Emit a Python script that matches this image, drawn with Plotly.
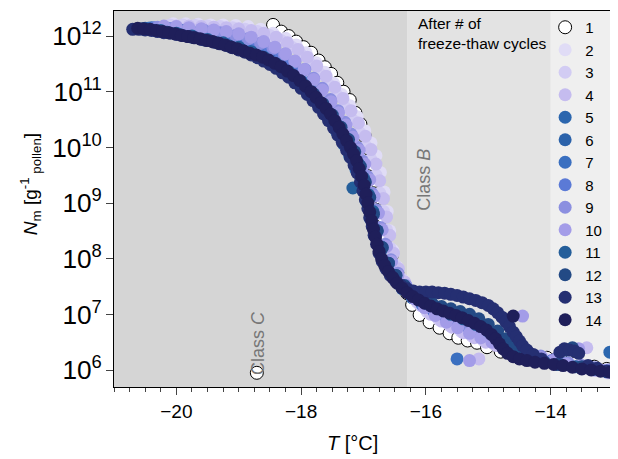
import plotly.graph_objects as go

# ---------------- data (T in °C, log10 of N_m) ----------------
cycles = ["1", "2", "3", "4", "5", "6", "7", "8", "9", "10", "11", "12", "13", "14"]
colors = ["#ffffff", "#e0dcf6", "#d2ccf3", "#c5bcef", "#2b66ae", "#2b62aa", "#3a6fc0",
          "#5b7ad6", "#8b8fe0", "#a39ce8", "#245e9a", "#234a85", "#252f72", "#1f1f5a"]

T1 = [-18.71, -18.45, -18.32, -18.2, -18.08, -17.96, -17.84, -17.72, -17.62, -17.52, -17.42, -17.32, -17.22,
      -17.13, -17.05, -16.98, -16.92, -16.86, -16.8, -16.74, -16.68, -16.62, -16.55, -16.46, -16.37, -16.3,
      -16.22, -16.1, -15.94, -15.78, -15.62, -15.48, -15.33, -15.18, -15.02, -14.8, -14.55, -14.3, -14.06,
      -13.93, -13.85, -13.6, -13.3, -13.1]
L1 = [5.95, 12.2, 12.08, 12.0, 11.9, 11.8, 11.7, 11.56, 11.44, 11.32, 11.16, 11.0, 10.85,
      10.62, 10.42, 10.2, 9.98, 9.7, 9.4, 9.1, 8.75, 8.4, 8.05, 7.75, 7.52, 7.38,
      7.17, 6.99, 6.86, 6.76, 6.66, 6.58, 6.53, 6.49, 6.41, 6.33, 6.27, 6.22, 6.22,
      6.18, 6.26, 6.12, 6.06, 6.02]

T2 = [-20.05, -19.85, -19.65, -19.45, -19.25, -19.05, -18.85, -18.65, -18.45, -18.25, -18.08, -17.92, -17.76,
      -17.62, -17.48, -17.35, -17.22, -17.1, -16.98, -16.88, -16.8, -16.73, -16.67, -16.62, -16.58, -16.53,
      -16.46, -16.36, -16.24, -16.1, -15.94, -15.78, -15.6, -15.42, -15.24, -15.06, -14.88, -14.7, -14.5,
      -14.3, -14.1, -13.9, -13.7, -13.5, -13.3, -13.1]
L2 = [12.22, 12.22, 12.21, 12.2, 12.2, 12.19, 12.17, 12.12, 12.05, 11.96, 11.84, 11.7, 11.52,
      11.35, 11.15, 10.95, 10.75, 10.55, 10.3, 10.08, 9.85, 9.55, 9.2, 8.85, 8.5, 8.15,
      7.85, 7.6, 7.38, 7.18, 7.02, 6.9, 6.8, 6.7, 6.62, 6.55, 6.48, 6.42, 6.35,
      6.28, 6.22, 6.16, 6.12, 6.08, 6.04, 6.0]

T3 = [-20.1, -19.9, -19.7, -19.5, -19.3, -19.1, -18.9, -18.7, -18.5, -18.32, -18.15, -18.0, -17.85,
      -17.7, -17.56, -17.43, -17.3, -17.18, -17.06, -16.96, -16.88, -16.8, -16.74, -16.68, -16.63, -16.58,
      -16.5, -16.4, -16.28, -16.14, -15.98, -15.8, -15.62, -15.44, -15.26, -15.08, -14.9, -14.72, -14.52,
      -14.32, -14.12, -13.92, -13.72, -13.52, -13.32, -13.12]
L3 = [12.2, 12.2, 12.19, 12.18, 12.17, 12.15, 12.12, 12.08, 12.01, 11.92, 11.8, 11.66, 11.5,
      11.32, 11.13, 10.94, 10.72, 10.5, 10.26, 10.02, 9.78, 9.5, 9.18, 8.85, 8.52, 8.2,
      7.9, 7.64, 7.42, 7.22, 7.05, 6.92, 6.8, 6.7, 6.61, 6.53, 6.46, 6.4, 6.33,
      6.26, 6.2, 6.14, 6.1, 6.06, 6.02, 5.98]

T4 = [-20.0, -19.8, -19.6, -19.4, -19.2, -19.0, -18.8, -18.6, -18.4, -18.22, -18.05, -17.9, -17.75,
      -17.6, -17.46, -17.33, -17.2, -17.08, -16.97, -16.88, -16.8, -16.74, -16.68, -16.63, -16.58, -16.52,
      -16.44, -16.34, -16.22, -16.08, -15.92, -15.75, -15.58, -15.4, -15.22, -15.04, -14.86, -14.68, -14.48,
      -14.28, -14.08, -13.88, -13.68, -13.48, -13.28, -13.08, -15.15, -13.42]
L4 = [12.18, 12.18, 12.17, 12.16, 12.15, 12.13, 12.1, 12.05, 11.98, 11.88, 11.76, 11.62, 11.46,
      11.28, 11.08, 10.88, 10.66, 10.44, 10.2, 9.96, 9.7, 9.4, 9.08, 8.75, 8.42, 8.1,
      7.82, 7.58, 7.36, 7.16, 7.0, 6.88, 6.77, 6.67, 6.58, 6.5, 6.44, 6.38, 6.3,
      6.23, 6.17, 6.12, 6.07, 6.03, 5.99, 5.95, 6.2, 6.4]

T5 = [-20.5, -20.25, -20.0, -19.75, -19.5, -19.25, -19.02, -18.82, -18.62, -18.44, -18.26, -18.1, -17.95,
      -17.81, -17.68, -17.55, -17.43, -17.32, -17.22, -17.12, -17.04, -16.96, -16.89, -16.82, -16.74, -16.64,
      -16.52, -16.38, -16.22, -16.05, -15.87, -15.68, -15.49, -15.3, -15.12, -14.94, -14.76, -14.58, -14.38,
      -14.18, -13.96, -13.74, -13.52, -13.3, -13.1, -13.05]
L5 = [12.14, 12.12, 12.09, 12.05, 12.0, 11.94, 11.87, 11.79, 11.69, 11.57, 11.44, 11.28, 11.11,
      10.92, 10.72, 10.5, 10.28, 10.06, 9.84, 9.6, 9.34, 9.04, 8.72, 8.42, 8.14, 7.88,
      7.66, 7.46, 7.3, 7.18, 7.08, 7.0, 6.92, 6.83, 6.73, 6.61, 6.48, 6.37, 6.27,
      6.2, 6.14, 6.1, 6.06, 6.02, 5.98, 6.32]

T6 = [-20.45, -20.2, -19.95, -19.7, -19.45, -19.2, -18.98, -18.78, -18.58, -18.4, -18.22, -18.06, -17.91,
      -17.77, -17.64, -17.51, -17.39, -17.28, -17.18, -17.09, -17.01, -16.94, -16.87, -16.8, -16.72, -16.62,
      -16.5, -16.36, -16.2, -16.03, -15.85, -15.66, -15.47, -15.28, -15.1, -14.92, -14.74, -14.56, -14.36,
      -14.16, -13.94, -13.72, -13.5, -13.28, -13.08]
L6 = [12.14, 12.12, 12.09, 12.05, 12.0, 11.94, 11.88, 11.8, 11.7, 11.58, 11.45, 11.3, 11.13,
      10.94, 10.74, 10.53, 10.32, 10.1, 9.88, 9.63, 9.36, 9.06, 8.74, 8.44, 8.15, 7.9,
      7.68, 7.48, 7.32, 7.2, 7.1, 7.02, 6.94, 6.85, 6.75, 6.63, 6.5, 6.38, 6.28,
      6.2, 6.14, 6.1, 6.06, 6.02, 5.98]

T7 = [-20.4, -20.15, -19.9, -19.65, -19.4, -19.15, -18.95, -18.75, -18.55, -18.37, -18.2, -18.05, -17.9,
      -17.76, -17.63, -17.5, -17.38, -17.27, -17.17, -17.08, -17.0, -16.93, -16.86, -16.79, -16.71, -16.61,
      -16.5, -16.37, -16.22, -16.06, -15.88, -15.7, -15.49, -15.32, -15.14, -14.96, -14.78, -14.6, -14.4,
      -14.2, -13.98, -13.76, -13.54, -13.32, -13.1, -15.5]
L7 = [12.15, 12.13, 12.1, 12.06, 12.02, 11.96, 11.9, 11.82, 11.72, 11.6, 11.47, 11.32, 11.15,
      10.96, 10.76, 10.55, 10.34, 10.12, 9.9, 9.65, 9.38, 9.08, 8.76, 8.46, 8.18, 7.92,
      7.7, 7.5, 7.32, 7.18, 7.07, 6.98, 6.9, 6.82, 6.72, 6.62, 6.5, 6.38, 6.28,
      6.2, 6.15, 6.1, 6.06, 6.02, 5.98, 6.2]

T8 = [-20.35, -20.1, -19.85, -19.6, -19.35, -19.1, -18.9, -18.7, -18.5, -18.32, -18.15, -18.0, -17.85,
      -17.72, -17.59, -17.47, -17.36, -17.26, -17.16, -17.07, -16.99, -16.92, -16.85, -16.78, -16.7, -16.6,
      -16.49, -16.36, -16.2, -16.04, -15.86, -15.68, -15.5, -15.32, -15.14, -14.96, -14.78, -14.6, -14.4,
      -14.2, -13.98, -13.76, -13.54, -13.32, -13.1]
L8 = [12.15, 12.13, 12.1, 12.07, 12.03, 11.98, 11.92, 11.84, 11.74, 11.63, 11.5, 11.35, 11.18,
      11.0, 10.8, 10.6, 10.4, 10.18, 9.95, 9.7, 9.42, 9.12, 8.8, 8.5, 8.2, 7.94,
      7.72, 7.5, 7.3, 7.15, 7.04, 6.95, 6.86, 6.77, 6.68, 6.58, 6.48, 6.39, 6.3,
      6.23, 6.17, 6.12, 6.07, 6.03, 5.99]

T9 = [-20.3, -20.05, -19.8, -19.55, -19.3, -19.05, -18.85, -18.65, -18.45, -18.27, -18.1, -17.94, -17.8,
      -17.66, -17.53, -17.41, -17.3, -17.2, -17.1, -17.02, -16.94, -16.87, -16.8, -16.73, -16.65, -16.56,
      -16.45, -16.32, -16.16, -16.0, -15.82, -15.64, -15.46, -15.28, -15.1, -14.92, -14.74, -14.56, -14.36,
      -14.16, -13.94, -13.72, -13.5, -13.28, -13.08]
L9 = [12.16, 12.14, 12.12, 12.1, 12.06, 12.01, 11.95, 11.87, 11.78, 11.67, 11.54, 11.4, 11.24,
      11.06, 10.86, 10.66, 10.45, 10.24, 10.0, 9.76, 9.48, 9.18, 8.88, 8.56, 8.26, 7.98,
      7.74, 7.52, 7.32, 7.16, 7.04, 6.94, 6.84, 6.75, 6.66, 6.57, 6.48, 6.4, 6.32,
      6.25, 6.19, 6.13, 6.08, 6.04, 6.0]

T10 = [-20.2, -20.0, -19.8, -19.6, -19.4, -19.2, -19.0, -18.8, -18.6, -18.42, -18.25, -18.1, -17.95,
       -17.8, -17.66, -17.52, -17.4, -17.28, -17.17, -17.07, -16.98, -16.9, -16.83, -16.76, -16.7, -16.63,
       -16.55, -16.45, -16.33, -16.18, -16.02, -15.85, -15.67, -15.49, -15.3, -15.12, -14.94, -14.76, -14.56,
       -14.36, -14.16, -13.96, -13.76, -13.56, -13.36, -13.16, -14.45, -15.3, -13.55]
L10 = [12.18, 12.17, 12.15, 12.13, 12.11, 12.08, 12.04, 11.98, 11.9, 11.8, 11.68, 11.55, 11.4,
       11.22, 11.03, 10.82, 10.62, 10.4, 10.18, 9.95, 9.7, 9.42, 9.12, 8.82, 8.52, 8.22,
       7.95, 7.7, 7.48, 7.28, 7.12, 6.98, 6.86, 6.76, 6.66, 6.58, 6.5, 6.43, 6.36,
       6.28, 6.22, 6.16, 6.11, 6.07, 6.03, 5.99, 6.97, 6.17, 6.38]

T11 = [-20.5, -20.25, -20.0, -19.75, -19.5, -19.25, -19.0, -18.8, -18.6, -18.4, -18.2, -18.0, -17.85,
       -17.7, -17.55, -17.4, -17.28, -17.17, -17.08, -17.0, -16.92, -16.85, -16.78, -16.7, -16.6, -16.48,
       -16.34, -16.18, -16.0, -15.8, -15.6, -15.4, -15.2, -15.0, -14.82, -14.65, -14.48, -14.3, -14.1,
       -13.85, -13.6, -13.35, -13.1, -17.17]
L11 = [12.12, 12.1, 12.05, 12.0, 11.94, 11.88, 11.8, 11.72, 11.62, 11.5, 11.36, 11.18, 11.0,
       10.8, 10.6, 10.38, 10.16, 9.94, 9.7, 9.45, 9.15, 8.85, 8.5, 8.2, 7.92, 7.7,
       7.5, 7.34, 7.2, 7.1, 7.0, 6.92, 6.82, 6.7, 6.55, 6.4, 6.28, 6.2, 6.14,
       6.1, 6.06, 6.02, 5.98, 9.27]

T12 = [-20.55, -20.35, -20.15, -19.95, -19.75, -19.55, -19.35, -19.15, -18.95, -18.75, -18.55, -18.35, -18.15,
       -17.95, -17.8, -17.65, -17.5, -17.36, -17.24, -17.14, -17.05, -16.97, -16.9, -16.84, -16.78, -16.7,
       -16.6, -16.48, -16.35, -16.2, -16.05, -15.9, -15.75, -15.6, -15.45, -15.3, -15.15, -15.0, -14.85,
       -14.72, -14.6, -14.45, -14.3, -14.1, -13.9, -13.75, -13.65, -13.5, -13.3, -13.1]
L12 = [12.13, 12.1, 12.07, 12.03, 11.98, 11.93, 11.88, 11.82, 11.75, 11.66, 11.56, 11.45, 11.3,
       11.12, 10.96, 10.78, 10.58, 10.36, 10.14, 9.92, 9.66, 9.38, 9.1, 8.8, 8.5, 8.2,
       7.92, 7.7, 7.52, 7.38, 7.28, 7.2, 7.14, 7.1, 7.05, 7.0, 6.92, 6.82, 6.7,
       6.56, 6.42, 6.3, 6.2, 6.14, 6.1, 6.36, 6.4, 6.06, 6.02, 5.97]

T13 = [-20.7, -20.6, -20.5, -20.4, -20.3, -20.2, -20.1, -20.0, -19.9, -19.8,
       -19.7, -19.6, -19.5, -19.4, -19.3, -19.2, -19.1, -19.0, -18.9, -18.8,
       -18.7, -18.6, -18.5, -18.4, -18.3, -18.2, -18.1, -18.0, -17.9, -17.81,
       -17.72, -17.64, -17.56, -17.48, -17.41, -17.34, -17.27, -17.21, -17.15, -17.1,
       -17.05, -17.01, -16.97, -16.93, -16.9, -16.86, -16.83, -16.79, -16.75, -16.7,
       -16.64, -16.57, -16.49, -16.4, -16.3, -16.2, -16.1, -16.0, -15.9, -15.8,
       -15.7, -15.6, -15.5, -15.4, -15.3, -15.2, -15.1, -15.0, -14.92, -14.85,
       -14.78, -14.72, -14.66, -14.6, -14.55, -14.5, -14.45, -14.38, -14.28, -14.15,
       -13.85, -13.78, -13.7, -13.62, -13.55, -13.4, -13.25, -13.1]
L13 = [12.12, 12.12, 12.11, 12.1, 12.08, 12.06, 12.05, 12.03, 12.01, 11.99,
       11.97, 11.94, 11.92, 11.89, 11.86, 11.83, 11.79, 11.75, 11.71, 11.66,
       11.61, 11.55, 11.49, 11.42, 11.34, 11.26, 11.16, 11.06, 10.95, 10.84,
       10.72, 10.6, 10.48, 10.35, 10.22, 10.09, 9.95, 9.82, 9.68, 9.54,
       9.38, 9.22, 9.06, 8.9, 8.74, 8.58, 8.42, 8.26, 8.1, 7.95,
       7.82, 7.7, 7.6, 7.52, 7.46, 7.42, 7.4, 7.4, 7.4, 7.39,
       7.38, 7.36, 7.34, 7.31, 7.28, 7.25, 7.21, 7.16, 7.1, 7.03,
       6.95, 6.87, 6.78, 6.68, 6.6, 6.52, 6.44, 6.36, 6.28, 6.2,
       6.32, 6.38, 6.36, 6.34, 6.3, 6.08, 6.03, 5.98]

T14 = [-20.62, -20.52, -20.42, -20.32, -20.22, -20.12, -20.02, -19.92, -19.82, -19.72,
       -19.62, -19.52, -19.42, -19.32, -19.22, -19.12, -19.02, -18.92, -18.82, -18.72,
       -18.62, -18.52, -18.42, -18.32, -18.22, -18.12, -18.02, -17.93, -17.84, -17.76,
       -17.68, -17.6, -17.53, -17.46, -17.39, -17.33, -17.27, -17.21, -17.16, -17.11,
       -17.07, -17.03, -16.99, -16.96, -16.93, -16.9, -16.87, -16.84, -16.81, -16.78,
       -16.75, -16.71, -16.66, -16.6, -16.53, -16.46, -16.38, -16.3, -16.21, -16.12,
       -16.02, -15.92, -15.82, -15.72, -15.62, -15.52, -15.42, -15.32, -15.22, -15.12,
       -15.03, -14.95, -14.88, -14.82, -14.76, -14.69, -14.6, -14.5, -14.38, -14.25,
       -14.1, -13.95, -13.8, -13.65, -13.5, -13.35, -13.2, -13.05, -14.6]
L14 = [12.14, 12.13, 12.12, 12.1, 12.08, 12.06, 12.04, 12.01, 11.99, 11.97,
       11.95, 11.92, 11.9, 11.87, 11.84, 11.8, 11.77, 11.73, 11.69, 11.66,
       11.62, 11.57, 11.51, 11.45, 11.37, 11.29, 11.2, 11.1, 11.0, 10.9,
       10.8, 10.7, 10.6, 10.48, 10.36, 10.24, 10.12, 10.0, 9.88, 9.76,
       9.62, 9.48, 9.32, 9.16, 9.0, 8.84, 8.68, 8.53, 8.39, 8.26,
       8.13, 8.0, 7.88, 7.77, 7.66, 7.56, 7.47, 7.39, 7.32, 7.26,
       7.2, 7.15, 7.1, 7.06, 7.02, 6.98, 6.94, 6.89, 6.84, 6.78,
       6.72, 6.64, 6.56, 6.47, 6.38, 6.3, 6.24, 6.2, 6.17, 6.14,
       6.12, 6.1, 6.08, 6.05, 6.02, 6.0, 5.98, 5.96, 6.97]

T_series = [T1, T2, T3, T4, T5, T6, T7, T8, T9, T10, T11, T12, T13, T14]
L_series = [L1, L2, L3, L4, L5, L6, L7, L8, L9, L10, L11, L12, L13, L14]

x_range = [-21.0, -13.0]
y_range_log = [5.695, 12.45]
class_b_start = -16.3
class_a_start = -14.0

# ---------------- figure ----------------
FONT = "Liberation Sans, Arial, sans-serif"
fig = go.Figure()

for name, col, T, L in zip(cycles, colors, T_series, L_series):
    if name == "1":
        marker = dict(size=13, color=col, line=dict(color="#000000", width=1))
    else:
        marker = dict(size=13, color=col, line=dict(width=0))
    fig.add_trace(go.Scatter(x=T, y=[10 ** v for v in L], mode="markers", name=name,
                             marker=marker))

shapes = [
    dict(type="rect", xref="x", yref="paper", x0=x_range[0], x1=class_b_start, y0=0, y1=1,
         fillcolor="#d5d5d5", line=dict(width=0), layer="below"),
    dict(type="rect", xref="x", yref="paper", x0=class_b_start, x1=class_a_start, y0=0, y1=1,
         fillcolor="#e3e3e3", line=dict(width=0), layer="below"),
    dict(type="rect", xref="x", yref="paper", x0=class_a_start, x1=x_range[1], y0=0, y1=1,
         fillcolor="#efefef", line=dict(width=0), layer="below"),
]

annotations = [
    dict(text="Class <i>C</i>", x=-18.68, y=6.48, xref="x", yref="y", textangle=-90,
         showarrow=False, font=dict(family=FONT, size=18, color="#777777")),
    dict(text="Class <i>B</i>", x=-16.02, y=9.41, xref="x", yref="y", textangle=-90,
         showarrow=False, font=dict(family=FONT, size=18, color="#777777")),
    dict(text="After # of<br>freeze-thaw cycles", x=0.605, y=0.995, xref="paper", yref="paper",
         xanchor="left", yanchor="top", align="left", showarrow=False,
         font=dict(family=FONT, size=15.5, color="#000000")),
    dict(text="<i>N</i><sub>m</sub> [g<sup>-1</sup><sub> pollen</sub>]", x=-0.166, y=0.54,
         xref="paper", yref="paper", xanchor="center", yanchor="middle", textangle=-90,
         showarrow=False, font=dict(family=FONT, size=19, color="#000000")),
    dict(text="<i>T</i> [°C]", x=0.477, y=-0.149, xref="paper", yref="paper",
         xanchor="center", yanchor="middle", showarrow=False,
         font=dict(family=FONT, size=20, color="#000000")),
]

fig.update_layout(
    width=610, height=451,
    margin=dict(l=106, r=5, t=3, b=72),
    paper_bgcolor="#ffffff", plot_bgcolor="#efefef",
    font=dict(family=FONT, size=18, color="#000000"),
    shapes=shapes, annotations=annotations,
    legend=dict(x=0.864, y=1.0, xanchor="left", yanchor="top", bgcolor="rgba(0,0,0,0)",
                font=dict(family=FONT, size=15), tracegroupgap=0, itemwidth=30),
    showlegend=True,
)
fig.update_xaxes(range=x_range, dtick=2, tick0=-20, ticks="outside", ticklen=7, tickwidth=1,
                 showline=True, linecolor="#000000", linewidth=1, mirror=True,
                 showgrid=False, zeroline=False, automargin=False,
                 minor=dict(dtick=0.25, tick0=-20, ticks="outside", ticklen=4, showgrid=False),
                 tickfont=dict(size=19))
fig.update_yaxes(type="log", range=y_range_log, dtick=1, exponentformat="power",
                 ticks="outside", ticklen=7, tickwidth=1,
                 showline=True, linecolor="#000000", linewidth=1, mirror=True,
                 showgrid=False, zeroline=False, automargin=False,
                 tickfont=dict(size=21))

fig.write_html("out.html")
